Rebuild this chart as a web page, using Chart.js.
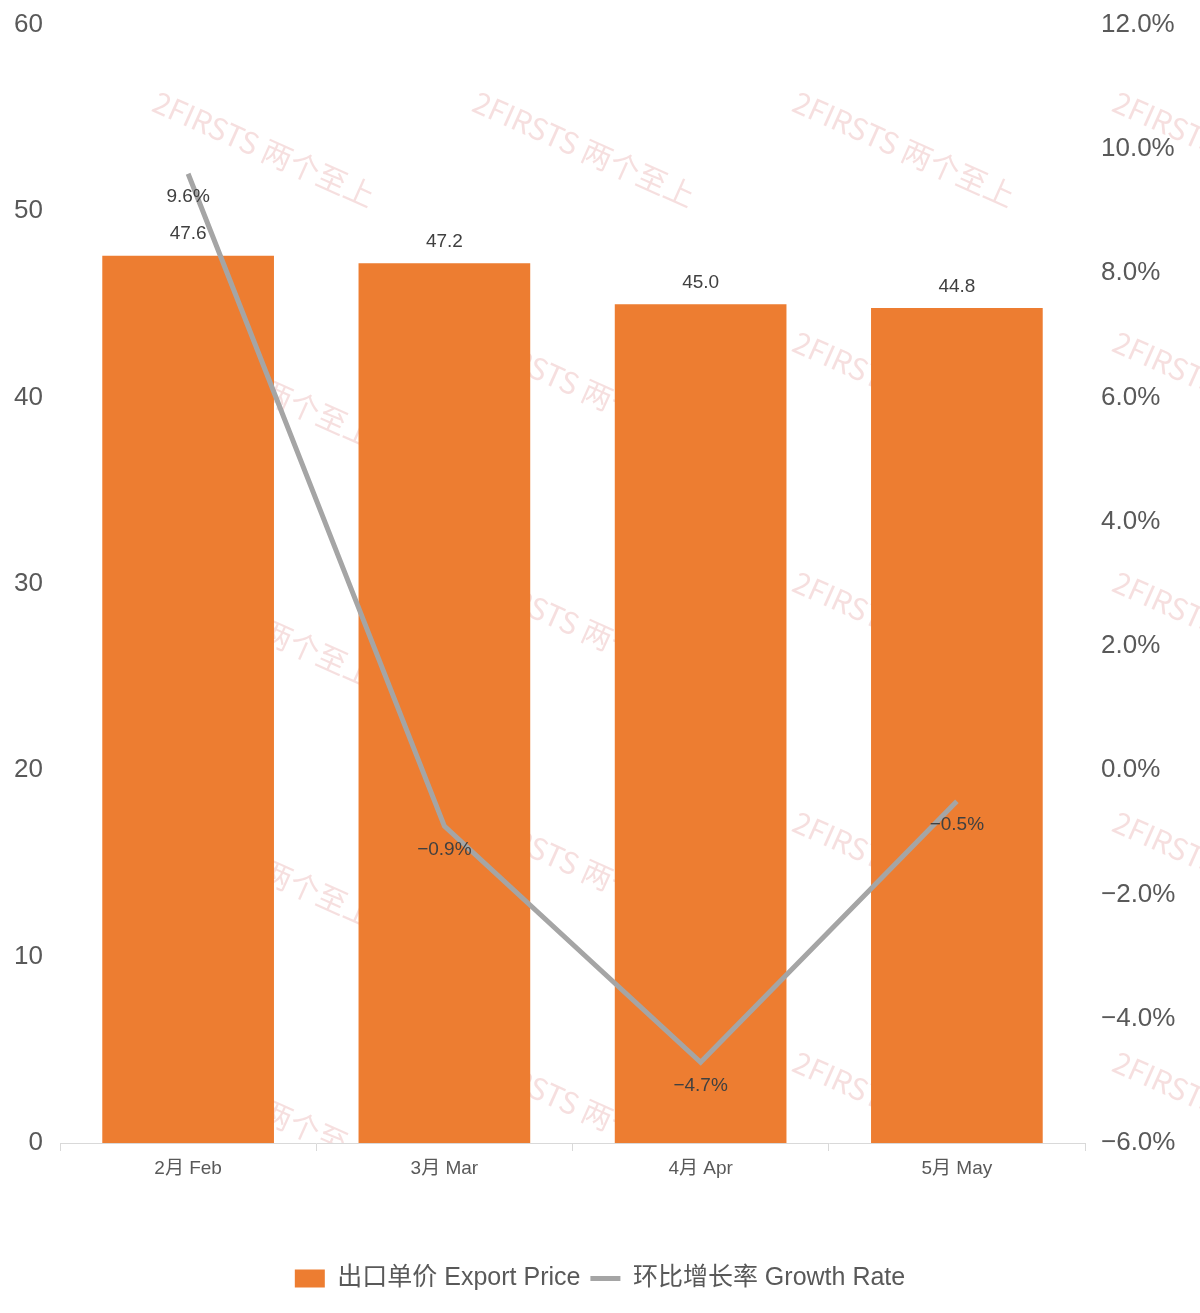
<!DOCTYPE html>
<html>
<head>
<meta charset="utf-8">
<script src="https://cdn.jsdelivr.net/npm/chart.js@4/dist/chart.umd.min.js"></script>
<style>
  html, body { margin: 0; padding: 0; background: #fff; }
  #wrap { width: 1200px; height: 1313px; position: relative; }
</style>
</head>
<body>
<div id="wrap"><canvas id="chart" width="1200" height="1313"></canvas></div>
<script>
const months = ["2月 Feb", "3月 Mar", "4月 Apr", "5月 May"];
const exportPrice = [47.6, 47.2, 45.0, 44.8];
const growthRate = [9.6, -0.9, -4.7, -0.5];
const leftTicks = [0, 10, 20, 30, 40, 50, 60];
const rightTicks = [-6, -4, -2, 0, 2, 4, 6, 8, 10, 12];

const FONT = "'Liberation Sans', 'Noto Sans CJK SC', sans-serif";
const TEXT = "#595959";

// faint repeated watermark behind the bars
const watermark = {
    id: "watermark",
    beforeDatasetsDraw(chart) {
        const ctx = chart.ctx;
        const a = chart.chartArea;
        ctx.save();
        ctx.beginPath();
        ctx.rect(0, 0, chart.width, a.bottom);
        ctx.clip();
        ctx.fillStyle = "rgba(225, 150, 150, 0.3)";
        ctx.font = "30px 'Noto Sans CJK SC', sans-serif";
        for (let x = 90; x < 1200; x += 320) {
            for (let y = 70; y < 1150; y += 240) {
                ctx.save();
                ctx.translate(x + 65, y + 30);
                ctx.rotate(0.42);
                ctx.fillText("2FIRSTS 两个至上", 0, 0);
                ctx.restore();
            }
        }
        ctx.restore();
    }
};

// value labels: above bars, below line points
const valueLabels = {
    id: "valueLabels",
    afterDatasetsDraw(chart) {
        const ctx = chart.ctx;
        ctx.save();
        ctx.font = "19px " + FONT;
        ctx.fillStyle = "#404040";
        ctx.textAlign = "center";
        chart.getDatasetMeta(1).data.forEach((bar, i) => {
            ctx.textBaseline = "bottom";
            ctx.fillText(exportPrice[i].toFixed(1), bar.x, bar.y - 12);
        });
        chart.getDatasetMeta(0).data.forEach((pt, i) => {
            ctx.textBaseline = "top";
            const v = growthRate[i];
            const s = (v < 0 ? "\u2212" + Math.abs(v).toFixed(1) : v.toFixed(1)) + "%";
            ctx.fillText(s, pt.x, pt.y + 14);
        });
        ctx.restore();
    }
};

const ctx = document.getElementById("chart").getContext("2d");
const chart = new Chart(ctx, {
    type: "bar",
    data: {
        labels: months,
        datasets: [
            {
                type: "line",
                label: "环比增长率 Growth Rate",
                data: growthRate,
                yAxisID: "y1",
                borderColor: "#A5A5A5",
                backgroundColor: "#A5A5A5",
                borderWidth: 5,
                pointRadius: 0,
                pointStyle: "line",
                tension: 0,
                order: 0,
            },
            {
                label: "出口单价 Export Price",
                data: exportPrice,
                yAxisID: "y",
                backgroundColor: "#ED7D31",
                pointStyle: "rect",
                barPercentage: 1,
                categoryPercentage: 0.67,
                order: 1,
            },
        ],
    },
    options: {
        responsive: false,
        animation: false,
        layout: { padding: { top: 0, bottom: 12, left: 0, right: 0 } },
        plugins: {
            tooltip: { enabled: false },
            legend: {
                position: "bottom",
                reverse: true,
                labels: {
                    usePointStyle: true,
                    boxHeight: 18,
                    pointStyleWidth: 30,
                    color: TEXT,
                    font: { family: FONT, size: 25 },
                    padding: 10,
                },
            },
        },
        scales: {
            x: {
                grid: {
                    display: true,
                    drawOnChartArea: false,
                    offset: true,
                    tickLength: 8,
                    color: "#D9D9D9",
                },
                border: { color: "#D9D9D9" },
                ticks: { color: TEXT, font: { family: FONT, size: 19 }, padding: 6 },
                afterFit(s) { s.height = 113; },
            },
            y: {
                position: "left",
                min: 0,
                max: 60,
                grid: { display: false },
                border: { display: false },
                afterBuildTicks(s) { s.ticks = leftTicks.map(v => ({ value: v })); },
                ticks: { color: TEXT, font: { family: FONT, size: 26 }, padding: 9 },
                afterFit(s) { s.width = 60; },
            },
            y1: {
                position: "right",
                min: -6,
                max: 12,
                grid: { display: false },
                border: { display: false },
                afterBuildTicks(s) { s.ticks = rightTicks.map(v => ({ value: v })); },
                ticks: {
                    color: TEXT,
                    font: { family: FONT, size: 26 },
                    padding: 8,
                    callback: v => (v < 0 ? "\u2212" + Math.abs(v).toFixed(1) : v.toFixed(1)) + "%",
                },
                afterFit(s) { s.width = 115; },
            },
        },
    },
    plugins: [watermark, valueLabels],
});
</script>
</body>
</html>
